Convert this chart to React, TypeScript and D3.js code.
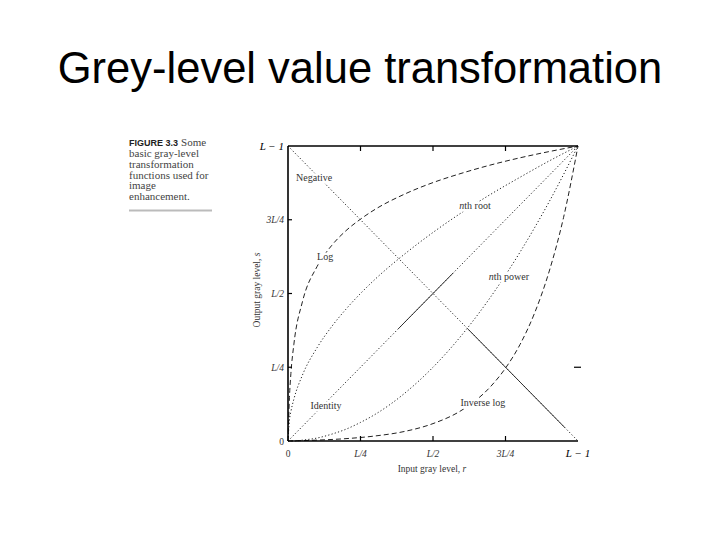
import React from "react";
import * as d3 from "d3";

// ---- data ----
const rGrid = [0, 0.005, 0.01, 0.02, 0.05, 0.1, 0.15, 0.2, 0.25, 0.3, 0.4, 0.5, 0.6, 0.7, 0.8, 0.9, 1];
const logValues = [0, 0.148, 0.229, 0.326, 0.473, 0.591, 0.662, 0.713, 0.752, 0.785, 0.836, 0.876, 0.908, 0.936, 0.96, 0.981, 1];
const rootValues = [0, 0.071, 0.1, 0.141, 0.224, 0.316, 0.387, 0.447, 0.5, 0.548, 0.632, 0.707, 0.775, 0.837, 0.894, 0.949, 1];
const powerValues = [0, 0, 0, 0, 0.003, 0.01, 0.023, 0.04, 0.063, 0.09, 0.16, 0.25, 0.36, 0.49, 0.64, 0.81, 1];
const invGrid = [0, 0.1, 0.2, 0.3, 0.4, 0.5, 0.6, 0.7, 0.75, 0.8, 0.85, 0.9, 0.95, 1];
const invLogValues = [0, 0.003, 0.008, 0.017, 0.032, 0.059, 0.105, 0.186, 0.247, 0.327, 0.433, 0.573, 0.757, 1];
const identityR = [0, 1];
const identityValues = [0, 1];
const negativeR = [0, 1];
const negativeValues = [1, 0];

const tickValues = [0, 0.25, 0.5, 0.75, 1];
const xTickLabels = ["0", "L/4", "L/2", "3L/4", "L − 1"];
const yTickLabels = ["0", "L/4", "L/2", "3L/4", "L − 1"];

const curveLabels = [
  { text: "Negative", r: 0.09, v: 0.892, italicN: false },
  { text: "Log", r: 0.128, v: 0.624, italicN: false },
  { text: "th root", r: 0.645, v: 0.797, italicN: true },
  { text: "th power", r: 0.762, v: 0.556, italicN: true },
  { text: "Identity", r: 0.131, v: 0.119, italicN: false },
  { text: "Inverse log", r: 0.672, v: 0.129, italicN: false },
];

const captionLines = [
  "basic gray-level",
  "transformation",
  "functions used for",
  "image",
  "enhancement.",
];

const title = "Grey-level value transformation";

export default function App() {
  const W = 720, H = 540;
  const x = d3.scaleLinear().domain([0, 1]).range([288, 578]);
  const y = d3.scaleLinear().domain([0, 1]).range([441, 146]);
  const line = d3
    .line<[number, number]>()
    .x((d) => x(d[0]))
    .y((d) => y(d[1]))
    .curve(d3.curveMonotoneX);
  const zip = (a: number[], b: number[]) => a.map((v, i) => [v, b[i]] as [number, number]);
  const seg = (a: number[], b: number[], lo: number, hi: number) => {
    const f = d3.scaleLinear().domain([a[0], a[1]]).range([b[0], b[1]]);
    return line([[lo, f(lo)], [hi, f(hi)]] as [number, number][]) || "";
  };
  const serif = "'Liberation Serif', 'DejaVu Serif', serif";
  const lineColor = "#222";

  const labelContent = (l: (typeof curveLabels)[number]) => (
    <>
      {l.italicN ? <tspan fontStyle="italic">n</tspan> : null}
      {l.text}
    </>
  );

  return (
    <svg width={W} height={H} style={{ position: "absolute", left: 0, top: 0, background: "#fff" }}>
      <rect width={W} height={H} fill="#fff" />
      <text
        x={360}
        y={83}
        textAnchor="middle"
        fontFamily="'Liberation Sans', Arial, sans-serif"
        fontSize={43.5}
        fill="#000"
      >
        {title}
      </text>

      {/* caption */}
      <g fontFamily={serif} fontSize={11} fill="#444">
        <text x={129} y={146}>
          <tspan fontFamily="'Liberation Sans', Arial, sans-serif" fontWeight="bold" fontSize={9} fill="#222">
            FIGURE 3.3
          </tspan>
          <tspan dx={3}>Some</tspan>
        </text>
        {captionLines.map((t, i) => (
          <text key={i} x={129} y={157 + i * 10.8}>
            {t}
          </text>
        ))}
        <line x1={129} x2={212} y1={210.5} y2={210.5} stroke="#bbb" strokeWidth={2} />
      </g>

      {/* curves */}
      <g fill="none" stroke={lineColor} strokeWidth={1}>
        <path d={line(zip(rGrid, logValues)) || ""} strokeDasharray="5,3" />
        <path d={line(zip(rGrid, rootValues)) || ""} strokeDasharray="1.2,2.2" />
        <path d={line(zip(rGrid, powerValues)) || ""} strokeDasharray="1.2,2.2" />
        <path d={line(zip(invGrid, invLogValues)) || ""} strokeDasharray="5,3" />
        <path d={line(zip(identityR, identityValues)) || ""} strokeDasharray="1.2,2.2" />
        <path d={seg(identityR, identityValues, 0.38, 0.57)} strokeWidth={0.9} />
        <path d={line(zip(negativeR, negativeValues)) || ""} strokeDasharray="1.2,2.2" />
        <path d={seg(negativeR, negativeValues, 0.62, 0.955)} strokeWidth={0.9} />
      </g>

      {/* curve labels: white halo first, then text */}
      <g fontFamily={serif} fontSize={10} textAnchor="middle">
        {curveLabels.map((l, i) => (
          <text
            key={"h" + i}
            x={x(l.r)}
            y={y(l.v) + 3.5}
            fill="#fff"
            stroke="#fff"
            strokeWidth={5}
            strokeLinejoin="round"
          >
            {labelContent(l)}
          </text>
        ))}
        {curveLabels.map((l, i) => (
          <text key={"t" + i} x={x(l.r)} y={y(l.v) + 3.5} fill="#333">
            {labelContent(l)}
          </text>
        ))}
      </g>

      {/* axes frame */}
      <g stroke="#000" strokeWidth={1.6} fill="none">
        <line x1={x(0)} x2={x(0)} y1={y(1)} y2={y(0)} />
        <line x1={x(0)} x2={x(1)} y1={y(0)} y2={y(0)} />
        <line x1={x(0)} x2={x(1)} y1={y(1)} y2={y(1)} />
      </g>
      <g stroke="#000" strokeWidth={1.2}>
        {tickValues.slice(1, 4).map((t, i) => (
          <g key={i}>
            <line x1={x(t)} x2={x(t)} y1={y(0)} y2={y(0) - 5} />
            <line x1={x(t)} x2={x(t)} y1={y(1)} y2={y(1) + 5} />
            <line x1={x(0)} x2={x(0) + 4} y1={y(t)} y2={y(t)} />
          </g>
        ))}
        <line x1={x(1) - 4} x2={x(1) + 3} y1={y(0.25)} y2={y(0.25)} />
      </g>

      {/* tick labels */}
      <g fontFamily={serif} fontSize={9.5} fill="#333">
        {tickValues.map((t, i) => (
          <text
            key={"x" + i}
            x={x(t)}
            y={457}
            textAnchor="middle"
            fontStyle={i === 0 ? "normal" : "italic"}
            fontSize={i === 4 ? 11 : 9.5}
            fill={i === 4 ? "#000" : "#333"}
          >
            {xTickLabels[i]}
          </text>
        ))}
        {tickValues.map((t, i) => (
          <text
            key={"y" + i}
            x={284}
            y={y(t) + 3.5}
            textAnchor="end"
            fontStyle={i === 0 ? "normal" : "italic"}
            fontSize={i === 4 ? 11 : 9.5}
            fill={i === 4 ? "#000" : "#333"}
          >
            {yTickLabels[i]}
          </text>
        ))}
      </g>

      {/* axis titles */}
      <g fontFamily={serif} fontSize={9.5} fill="#333">
        <text x={432} y={472} textAnchor="middle">
          Input gray level, <tspan fontStyle="italic">r</tspan>
        </text>
        <text transform="translate(260,290) rotate(-90)" textAnchor="middle">
          Output gray level, <tspan fontStyle="italic">s</tspan>
        </text>
      </g>
    </svg>
  );
}
